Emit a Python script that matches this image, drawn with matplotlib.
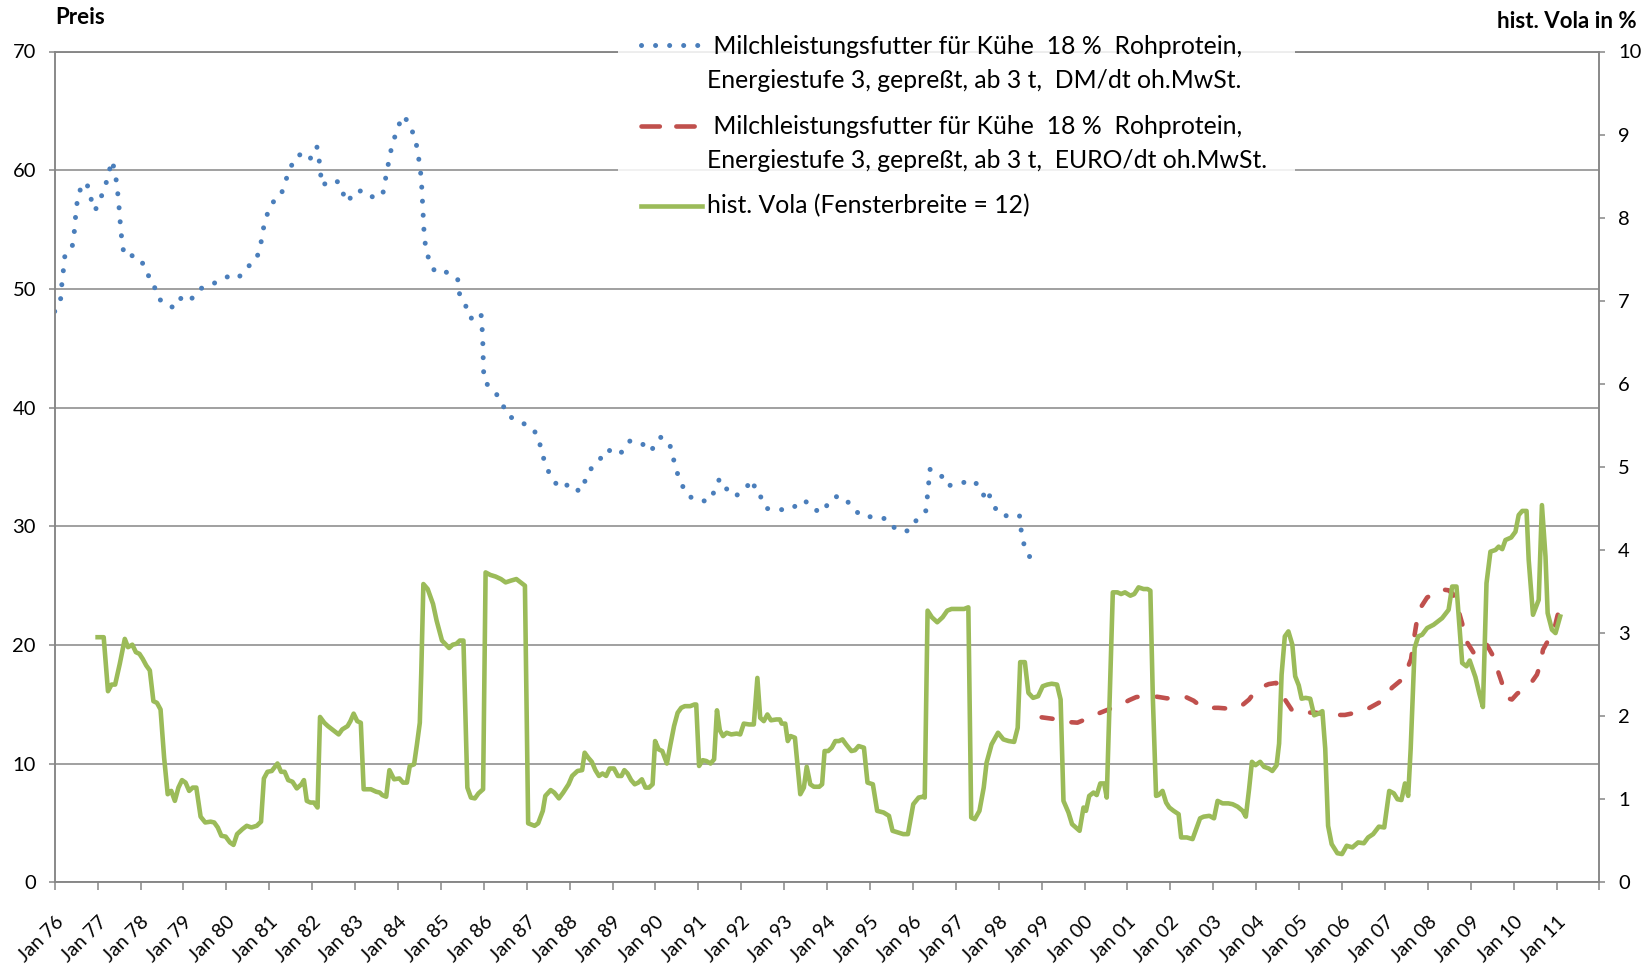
import matplotlib
matplotlib.use('Agg')
import matplotlib.pyplot as plt
import matplotlib.transforms as mtransforms
from matplotlib.lines import Line2D
from matplotlib.patches import Rectangle

plt.rcParams['font.family'] = ['Lato', 'DejaVu Sans']

# x values are month indices, 0 = Jan 76
blue_m = [0.0, 1.7, 2.0, 2.4, 2.8, 4.8, 5.4, 5.7, 6.1, 6.5, 8.4, 9.6, 10.3, 11.3, 12.8, 14.2, 15.1,
          16.1, 16.9, 17.5, 17.8, 18.2, 18.4, 18.9, 19.4, 21.6, 24.2, 25.4, 27.7, 28.3, 30.6, 33.6,
          35.7, 38.1, 40.5, 43.5, 46.6, 49.8, 51.6, 53.2, 56.0, 57.4, 58.0, 58.7, 59.9, 61.3, 63.2,
          64.3, 65.7, 67.2, 70.0, 71.5, 73.3, 73.9, 74.3, 74.7, 77.6, 79.3, 80.7, 82.2, 83.2, 86.3,
          89.1, 91.7, 92.4, 93.1, 93.8, 94.8, 95.9, 97.5, 99.2, 100.6, 101.5, 102.0, 102.5, 102.7,
          102.9, 103.1, 103.3, 103.7, 104.6, 106.4, 110.0, 112.7, 113.2, 114.9, 116.3, 119.2, 119.5,
          119.7, 119.8, 119.9, 120.1, 122.9, 125.0, 126.4, 129.2, 131.5, 133.5, 135.3, 136.1, 137.3,
          138.8, 141.3, 144.3, 146.8, 148.3, 150.1, 152.6, 154.6, 156.9, 158.9, 160.9, 164.1, 166.7,
          167.9, 169.4, 171.8, 172.8, 173.7, 175.0, 176.6, 179.2, 182.9, 184.6, 185.9, 187.7, 190.3,
          192.7, 195.4, 195.9, 197.4, 199.0, 201.9, 205.5, 208.2, 209.7, 212.1, 215.0, 216.5, 218.3,
          221.0, 223.1, 226.0, 229.5, 232.8, 235.3, 238.7, 241.2, 243.6, 244.0, 244.4, 244.7, 247.7,
          249.5, 253.2, 256.6, 258.8, 259.8, 260.8, 262.1, 264.1, 267.6, 269.8, 270.2, 270.8, 272.2,
          274.4]
blue_v = [48.1, 49.2, 50.4, 51.5, 52.7, 53.4, 54.5, 55.7, 56.8, 58.0, 59.0, 58.5, 57.4, 56.6, 57.6,
          58.7, 59.8, 60.8, 59.7, 58.6, 57.4, 56.3, 55.1, 53.9, 52.8, 52.8, 52.5, 51.4, 50.6, 49.5,
          48.7, 48.4, 49.4, 49.1, 50.0, 50.3, 50.8, 51.2, 51.0, 51.7, 52.3, 53.3, 54.5, 55.6, 56.7,
          57.4, 57.8, 58.9, 60.0, 61.1, 61.5, 61.0, 62.0, 61.0, 59.9, 58.7, 59.2, 59.0, 58.0, 57.3,
          58.1, 58.3, 57.7, 57.9, 59.1, 60.2, 61.4, 62.5, 63.6, 64.6, 63.9, 62.8, 61.7, 60.5, 59.4,
          58.2, 57.0, 55.9, 54.7, 53.6, 52.5, 51.4, 51.4, 50.8, 49.6, 48.6, 47.5, 48.0, 46.8, 45.7,
          44.5, 43.3, 42.2, 41.4, 40.5, 39.4, 38.9, 38.6, 38.3, 37.5, 36.3, 35.2, 34.1, 33.2, 33.6,
          32.9, 33.8, 34.9, 35.7, 36.5, 36.0, 36.3, 37.2, 37.0, 36.3, 36.9, 37.5, 37.1, 36.0, 34.8,
          33.8, 32.7, 32.2, 32.1, 33.0, 34.0, 33.2, 32.5, 33.1, 33.9, 32.8, 32.5, 31.5, 31.4, 31.4,
          31.9, 32.2, 31.4, 31.2, 32.1, 32.5, 32.4, 31.5, 30.8, 30.8, 30.6, 29.7, 29.6, 30.6, 31.3,
          32.4, 33.6, 34.8, 34.4, 33.4, 33.6, 33.9, 33.3, 32.6, 33.1, 32.0, 31.0, 30.8, 30.9, 29.8,
          28.7, 27.6, 26.8]

red_m = [276.0, 278.5, 280.8, 283.5, 286.0, 288.0, 290.0, 292.5, 295.0, 298.4, 300.5, 302.4, 304.5,
         306.8, 309.0, 311.0, 314.0, 316.4, 318.5, 320.4, 322.5, 325.4, 327.5, 329.6, 332.0, 334.0,
         335.5, 337.1, 339.5, 341.6, 343.6, 346.0, 349.0, 352.4, 356.6, 360.8, 364.0, 367.1, 370.7,
         374.0, 377.2, 379.3, 380.0, 380.8, 382.1, 383.8, 385.6, 387.5, 389.8, 391.0, 392.0, 393.6,
         394.8, 397.3, 399.0, 400.5, 402.0, 402.9, 404.5, 406.0, 407.5, 409.0, 411.0, 413.1, 414.5,
         415.4, 416.2, 417.5, 418.7, 419.5, 420.2, 421.0]
red_v = [13.9, 13.8, 13.7, 13.5, 13.45, 13.7, 14.0, 14.3, 14.6, 15.0, 15.35, 15.6, 15.7, 15.7, 15.6,
         15.5, 15.55, 15.6, 15.3, 14.85, 14.7, 14.7, 14.65, 14.6, 14.9, 15.4, 16.0, 16.4, 16.7, 16.8,
         15.6, 14.5, 14.3, 14.3, 14.1, 14.1, 14.3, 14.6, 15.2, 16.4, 17.2, 18.8, 20.3, 21.8, 23.2,
         24.0, 24.3, 24.7, 24.6, 24.3, 23.5, 21.8, 20.3, 19.1, 19.6, 20.0, 19.2, 18.4, 17.0, 15.55,
         15.4, 15.9, 16.3, 16.9, 17.5, 18.3, 19.6, 20.3, 20.8, 21.5, 22.4, 23.2]

vola_m = [12.0, 13.7, 14.9, 15.9, 16.9, 18.2, 19.6, 20.5, 21.7, 22.7, 23.7, 24.6, 25.6, 26.6, 27.6,
          28.6, 29.6, 30.6, 31.6, 32.6, 33.6, 34.6, 35.6, 36.6, 37.6, 38.6, 39.6, 40.8, 42.1, 43.6,
          44.6, 45.6, 46.6, 47.8, 49.0, 50.0, 51.0, 52.5, 53.7, 55.0, 56.5, 57.7, 58.5, 59.5, 60.7,
          62.3, 63.3, 64.3, 65.3, 66.5, 67.7, 69.0, 69.7, 70.5, 71.5, 72.5, 73.5, 74.2, 75.4, 76.4,
          77.9, 79.4, 80.4, 81.9, 82.7, 83.6, 84.6, 85.6, 86.4, 88.4, 89.9, 90.9, 91.6, 92.7, 93.6,
          94.9, 96.4, 97.4, 98.5, 99.3, 100.5, 101.3, 102.1, 102.5, 103.1, 104.3, 105.8, 106.8, 108.3,
          110.3, 111.3, 112.3, 113.3, 114.3, 115.4, 116.4, 117.5, 118.5, 119.8, 120.5, 121.8, 123.3,
          124.8, 126.1, 127.5, 129.1, 130.3, 131.5, 132.4, 134.2, 135.2, 136.5, 137.2, 138.7, 139.7,
          141.0, 142.2, 143.7, 144.7, 146.2, 147.5, 148.2, 149.2, 150.2, 151.2, 152.2, 153.2, 154.2,
          155.2, 156.4, 157.5, 158.5, 159.3, 160.2, 161.2, 162.2, 163.2, 164.2, 165.2, 166.2, 167.2,
          167.9, 168.9, 169.9, 171.2, 172.2, 173.2, 174.2, 175.2, 176.2, 177.7, 178.9, 179.4, 180.2,
          181.2, 182.2, 183.4, 184.4, 185.2, 186.0, 186.9, 187.9, 189.2, 190.7, 191.7, 192.7, 194.2,
          195.5, 196.5, 197.3, 198.3, 199.3, 200.3, 201.8, 202.8, 203.3, 204.3, 205.0, 205.8, 207.0,
          207.8, 208.5, 209.5, 210.3, 211.3, 212.3, 213.8, 214.6, 215.3, 216.3, 217.3, 218.3, 219.3,
          220.3, 221.3, 222.8, 223.8, 224.8, 226.3, 227.3, 228.8, 230.0, 231.8, 233.3, 234.3, 235.8,
          237.3, 238.6, 240.1, 241.6, 242.8, 243.3, 244.1, 245.3, 246.8, 248.3, 249.6, 250.8, 252.3,
          254.3, 255.5, 256.3, 257.3, 258.6, 259.8, 260.6, 262.0, 263.8, 265.3, 266.8, 268.3, 269.3,
          270.0, 271.3, 272.3, 273.6, 275.0, 276.3, 277.6, 278.8, 280.3, 281.3, 282.1, 283.5, 284.5,
          286.1, 286.6, 287.7, 288.4, 289.3, 290.5, 291.4, 292.4, 293.5, 294.2, 295.0, 295.9, 297.2,
          298.2, 299.3, 300.8, 301.9, 303.1, 304.5, 305.6, 306.4, 307.1, 308.0, 308.7, 309.8, 310.8,
          311.7, 312.9, 314.3, 315.0, 316.6, 318.2, 319.2, 320.3, 321.3, 322.9, 324.2, 325.2, 326.6,
          328.2, 329.4, 330.8, 332.2, 333.1, 334.0, 334.8, 335.8, 337.1, 338.2, 339.5, 340.5, 341.7,
          342.4, 343.1, 344.0, 345.0, 346.1, 346.9, 347.9, 348.7, 349.8, 351.1, 352.2, 353.4, 354.5,
          355.3, 356.1, 357.1, 358.7, 360.0, 361.3, 362.9, 364.5, 366.1, 367.3, 368.7, 370.3, 371.8,
          373.2, 374.5, 375.5, 376.6, 377.6, 378.5, 379.2, 380.3, 381.3, 382.4, 383.8, 385.6, 388.0,
          389.8, 390.8, 392.0, 393.6, 394.8, 395.7, 397.3, 398.4, 399.4, 400.4, 401.5, 402.9, 403.8,
          404.8, 405.7, 407.3, 408.5, 409.4, 410.4, 411.6, 412.2, 413.4, 415.0, 415.9, 416.9, 417.5,
          418.7, 419.7, 421.0]
vola_v = [2.95, 2.95, 2.30, 2.38, 2.38, 2.63, 2.93, 2.83, 2.86, 2.77, 2.75, 2.69, 2.61, 2.55, 2.18,
          2.16, 2.08, 1.50, 1.06, 1.10, 0.98, 1.14, 1.23, 1.20, 1.10, 1.14, 1.14, 0.79, 0.72, 0.73,
          0.72, 0.66, 0.56, 0.55, 0.48, 0.45, 0.58, 0.64, 0.68, 0.66, 0.68, 0.73, 1.25, 1.33, 1.34,
          1.43, 1.33, 1.33, 1.23, 1.21, 1.13, 1.18, 1.23, 0.98, 0.96, 0.96, 0.90, 1.99, 1.92, 1.88,
          1.83, 1.78, 1.84, 1.88, 1.94, 2.03, 1.94, 1.92, 1.12, 1.12, 1.09, 1.08, 1.05, 1.03, 1.35,
          1.24, 1.25, 1.20, 1.20, 1.40, 1.42, 1.66, 1.92, 2.51, 3.59, 3.53, 3.35, 3.15, 2.91,
          2.82, 2.86, 2.87, 2.91, 2.91, 1.14, 1.02, 1.01, 1.07, 1.12, 3.73, 3.70, 3.68,
          3.65, 3.61, 3.63, 3.65, 3.61, 3.57, 0.71, 0.68, 0.71, 0.86, 1.04, 1.11, 1.08,
          1.01, 1.08, 1.18, 1.28, 1.34, 1.35, 1.56, 1.50, 1.45, 1.35, 1.28, 1.31, 1.28,
          1.37, 1.37, 1.28, 1.28, 1.35, 1.31, 1.23, 1.18, 1.20, 1.24, 1.14, 1.14, 1.18,
          1.70, 1.60, 1.58, 1.43, 1.66, 1.88, 2.04, 2.10, 2.12, 2.12, 2.14, 2.14, 1.40,
          1.47, 1.46, 1.43, 1.48, 2.07, 1.83, 1.76, 1.80, 1.78, 1.79, 1.78, 1.91, 1.90,
          1.90, 2.46, 1.98, 1.94, 2.02, 1.95, 1.96, 1.96, 1.91, 1.91, 1.70, 1.76, 1.74,
          1.38, 1.06, 1.14, 1.39, 1.18, 1.15, 1.15, 1.18, 1.58, 1.58, 1.62, 1.70, 1.70,
          1.72, 1.66, 1.58, 1.59, 1.64, 1.62, 1.20, 1.18, 0.86, 0.84, 0.80, 0.62, 0.60,
          0.58, 0.58, 0.94, 1.02, 1.03, 1.02, 3.27, 3.19, 3.13, 3.19, 3.27, 3.29, 3.29,
          3.29, 3.31, 0.78, 0.76, 0.86, 1.14, 1.44, 1.66, 1.80, 1.72, 1.70, 1.69, 1.86,
          2.65, 2.65, 2.28, 2.22, 2.24, 2.36, 2.38, 2.39, 2.38, 2.20, 0.98, 0.84, 0.70,
          0.64, 0.62, 0.90, 0.86, 1.04, 1.08, 1.05, 1.19, 1.19, 1.02, 2.17, 3.49, 3.49,
          3.47, 3.49, 3.45, 3.47, 3.55, 3.53, 3.53, 3.51, 2.21, 1.04, 1.05, 1.10, 0.96,
          0.90, 0.86, 0.82, 0.54, 0.54, 0.52, 0.64, 0.77, 0.79, 0.80, 0.77, 0.98, 0.95,
          0.95, 0.94, 0.91, 0.86, 0.79, 1.12, 1.45, 1.41, 1.45, 1.39, 1.37, 1.34, 1.41,
          1.67, 2.50, 2.96, 3.02, 2.86, 2.48, 2.37, 2.21, 2.22, 2.21, 2.01, 2.03, 2.06,
          1.61, 0.68, 0.46, 0.35, 0.34, 0.44, 0.42, 0.48, 0.47, 0.54, 0.58, 0.67, 0.66,
          1.10, 1.07, 1.00, 0.99, 1.19, 1.04, 1.61, 2.82, 2.96, 2.98, 3.06, 3.10, 3.18,
          3.28, 3.56, 3.56, 2.64, 2.60, 2.67, 2.47, 2.27, 2.11, 3.60, 3.98, 4.00, 4.04,
          4.01, 4.12, 4.15, 4.22, 4.42, 4.47, 4.47, 3.88, 3.22, 3.40, 4.54, 3.92, 3.24,
          3.04, 3.00, 3.20]

tick_years = list(range(1976, 2013))
tick_labels = ['Jan %02d' % (y % 100) for y in tick_years[:-1]] + ['']

label_blue = [' Milchleistungsfutter für Kühe  18 %  Rohprotein,',
              'Energiestufe 3, gepreßt, ab 3 t,  DM/dt oh.MwSt.']
label_red = [' Milchleistungsfutter für Kühe  18 %  Rohprotein,',
             'Energiestufe 3, gepreßt, ab 3 t,  EURO/dt oh.MwSt.']
label_vola = 'hist. Vola (Fensterbreite = 12)'

BLUE = '#4A7EBB'
RED = '#C0504D'
GREEN = '#9BBB59'
GRID = '#868686'

W, H = 1649, 965
fig = plt.figure(figsize=(W / 100, H / 100), dpi=100)
L, R, T, B = 54.7, 1599.5, 51.5, 882.3
ax = fig.add_axes([L / W, 1 - B / H, (R - L) / W, (B - T) / H])
ax2 = ax.twinx()


def fx(px):
    return px / W


def fy(py):
    return 1 - py / H


blue_line, = ax.plot(blue_m, blue_v, color=BLUE, lw=3.6, dash_capstyle='round')
blue_line.set_dashes([0.01, 2.8])
red_line, = ax.plot(red_m, red_v, color=RED, lw=3.3, dash_capstyle='round')
red_line.set_dashes([2.4, 4.2])
ax2.plot(vola_m, vola_v, color=GREEN, lw=3.3, solid_joinstyle='round')

ax.set_xlim(0, 432)
ax.set_ylim(0, 70)
ax2.set_ylim(0, 10)
ax.set_yticks(range(0, 71, 10))
ax2.set_yticks(range(0, 11))
ax.set_xticks(range(0, 433, 12))
ax.set_xticklabels(tick_labels, rotation=45, ha='right', va='top', rotation_mode='anchor')
shift = mtransforms.ScaledTranslation(0.05, 0, fig.dpi_scale_trans)
for lbl in ax.get_xticklabels():
    lbl.set_transform(lbl.get_transform() + shift)

ax.yaxis.grid(True, color=GRID, lw=1.1)
ax.set_axisbelow(True)
for a in (ax, ax2):
    for side in ('left', 'right', 'bottom', 'top'):
        a.spines[side].set_color(GRID)
        a.spines[side].set_linewidth(1.1)
ax.tick_params(axis='y', direction='out', length=4.5, width=1.1, color=GRID, labelsize=14.5, pad=9)
ax.tick_params(axis='x', direction='out', length=6, width=1.1, color=GRID, labelsize=14, pad=16)
ax2.tick_params(axis='y', direction='out', length=4.5, width=1.1, color=GRID, labelsize=14.5, pad=9)

fig.text(fx(55), fy(18), 'Preis', fontsize=16, fontweight='bold', ha='left', va='center')
fig.text(fx(1637), fy(21), 'hist. Vola in %', fontsize=16, fontweight='bold', ha='right', va='center')

# legend drawn by hand to match the layout of the original
fig.add_artist(Rectangle((fx(618), fy(226)), fx(1295) - fx(618), fy(22) - fy(226),
                         transform=fig.transFigure, facecolor='white', edgecolor='none',
                         alpha=0.86, zorder=1))
h_blue = Line2D([fx(641), fx(701)], [fy(45), fy(45)], transform=fig.transFigure, color=BLUE,
                lw=3.6, dash_capstyle='round', zorder=2)
h_blue.set_dashes([0.01, 2.8])
h_red = Line2D([fx(641), fx(699)], [fy(126), fy(126)], transform=fig.transFigure, color=RED,
               lw=3.3, dash_capstyle='round', zorder=2)
h_red.set_dashes([4.0, 3.6])
h_green = Line2D([fx(641), fx(702)], [fy(206), fy(206)], transform=fig.transFigure, color=GREEN,
                 lw=3.3, zorder=2)
for h in (h_blue, h_red, h_green):
    fig.add_artist(h)

leg_fs = 17.8
fig.text(fx(707), fy(47), label_blue[0], fontsize=leg_fs, va='center', zorder=3)
fig.text(fx(707), fy(80), label_blue[1], fontsize=leg_fs, va='center', zorder=3)
fig.text(fx(707), fy(127), label_red[0], fontsize=leg_fs, va='center', zorder=3)
fig.text(fx(707), fy(160), label_red[1], fontsize=leg_fs, va='center', zorder=3)
fig.text(fx(707), fy(206), label_vola, fontsize=leg_fs, va='center', zorder=3)

fig.savefig('out.png', dpi=100)
